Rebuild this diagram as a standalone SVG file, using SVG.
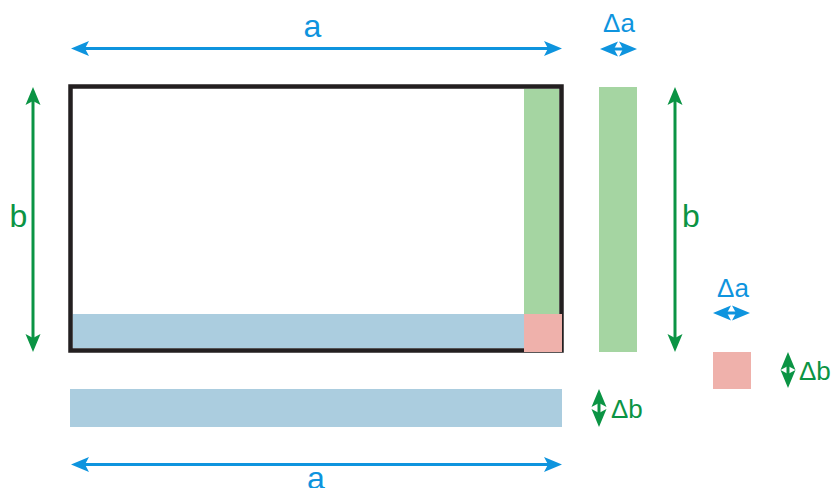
<svg xmlns="http://www.w3.org/2000/svg" width="836" height="488" viewBox="0 0 836 488">
<style>
.lbl{font-family:"Liberation Sans",Arial,sans-serif;font-size:32px}
.sm{font-family:"Liberation Sans",Arial,sans-serif;font-size:26px}
.blue{fill:#0e94de}
.green{fill:#0b9444}
.bl{stroke:#0e94de;stroke-width:3;fill:none}
.gl{stroke:#0b9444;stroke-width:3;fill:none}
</style>
<defs>
<marker id="ab" markerUnits="userSpaceOnUse" markerWidth="30" markerHeight="20" viewBox="-6 -10 22 20" refX="0" refY="0" orient="auto-start-reverse" overflow="visible">
<path d="M14,0 L-4,-7.5 L0,0 L-4,7.5 Z" fill="#0e94de"/>
</marker>
<marker id="ag" markerUnits="userSpaceOnUse" markerWidth="30" markerHeight="20" viewBox="-6 -10 22 20" refX="0" refY="0" orient="auto-start-reverse" overflow="visible">
<path d="M14,0 L-4,-7.5 L0,0 L-4,7.5 Z" fill="#0b9444"/>
</marker>
</defs>
<rect width="836" height="488" fill="#fff"/>
<g id="main-rect">
<rect x="524" y="88.75" width="35.25" height="225.25" fill="#a5d5a2"/>
<rect x="72.75" y="314" width="451.25" height="34.25" fill="#abcddf"/>
<rect x="70.5" y="86.5" width="491" height="264" fill="none" stroke="#231f20" stroke-width="4.5"/>
<rect x="524" y="314" width="38" height="38" fill="#efb1ab"/>
</g>
<g id="strip-right">
<rect x="599" y="87" width="38" height="265" fill="#a5d5a2"/>
</g>
<g id="strip-bottom">
<rect x="70" y="389" width="492" height="38" fill="#abcddf"/>
</g>
<g id="square">
<rect x="713" y="352" width="38" height="37" fill="#efb1ab"/>
</g>
<g id="connectors">
<line class="bl" x1="85" y1="48.5" x2="548" y2="48.5" marker-start="url(#ab)" marker-end="url(#ab)"/>
<line class="bl" x1="85" y1="464.5" x2="548" y2="464.5" marker-start="url(#ab)" marker-end="url(#ab)"/>
<line class="gl" x1="33" y1="101" x2="33" y2="338" marker-start="url(#ag)" marker-end="url(#ag)"/>
<line class="gl" x1="675" y1="101" x2="675" y2="338" marker-start="url(#ag)" marker-end="url(#ag)"/>
<line class="bl" x1="614" y1="49" x2="623" y2="49" marker-start="url(#ab)" marker-end="url(#ab)"/>
<line class="bl" x1="727" y1="313" x2="736" y2="313" marker-start="url(#ab)" marker-end="url(#ab)"/>
<line class="gl" x1="599" y1="403" x2="599" y2="413" marker-start="url(#ag)" marker-end="url(#ag)"/>
<line class="gl" x1="788" y1="366" x2="788" y2="374" marker-start="url(#ag)" marker-end="url(#ag)"/>
</g>
<g id="labels">
<text class="lbl blue" x="312.5" y="37" text-anchor="middle">a</text>
<text class="lbl blue" x="316" y="489" text-anchor="middle">a</text>
<text class="lbl green" x="18.5" y="227" text-anchor="middle">b</text>
<text class="lbl green" x="691" y="227" text-anchor="middle">b</text>
<text class="sm blue" x="619" y="32" text-anchor="middle">Δa</text>
<text class="sm blue" x="733" y="297" text-anchor="middle">Δa</text>
<text class="sm green" x="611" y="418">Δb</text>
<text class="sm green" x="799" y="380">Δb</text>
</g>
</svg>
